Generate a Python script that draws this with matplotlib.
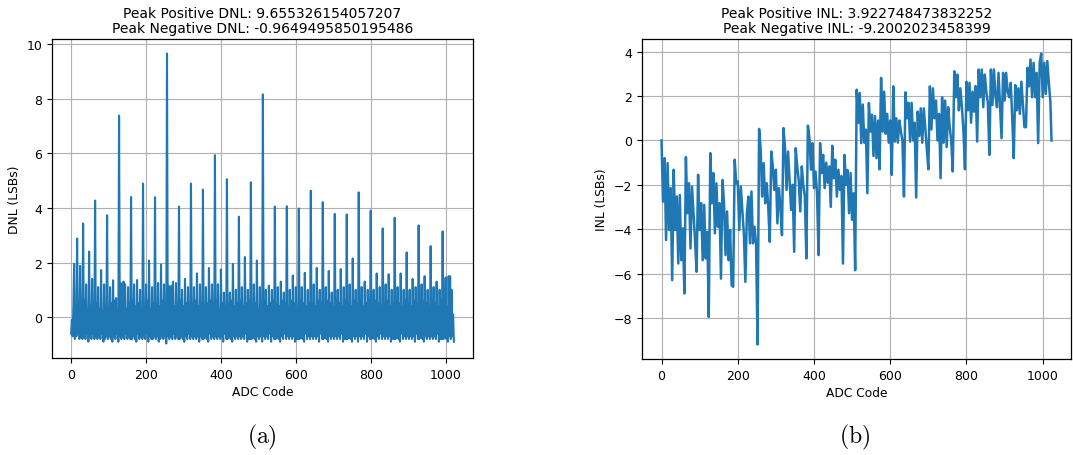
import numpy as np
import matplotlib
matplotlib.use("Agg")
import matplotlib.pyplot as plt

# ---------------- data ----------------
# DNL sampled every 2 ADC codes (0, 2, ..., 1022); one row = 32 codes
dnl_codes = np.arange(0, 1024, 2)
dnl_values = [
    -0.6, -0.1, -0.7, 0.4, 1.95, -0.8, 0.2, -0.7, 2.88, -0.6, 0.5, -0.8, 1.88, -0.7, 0.3, -0.8,
    3.43, -0.7, 0.6, -0.8, 1.2, -0.6, 0.2, -0.9, 2.40, -0.7, 0.4, -0.8, 1.4, -0.6, 0.1, -0.8,
    4.27, -0.7, 0.5, -0.8, 1.1, -0.7, 0.3, -0.8, 1.72, -0.6, 0.2, -0.9, 1.2, -0.8, 0.4, -0.7,
    3.73, -0.8, 0.3, -0.7, 1.1, -0.8, 0.5, -0.9, 1.35, -0.7, 0.6, -0.8, 0.7, -0.6, 0.2, -0.9,
    7.38, -0.7, 1.25, -0.8, 0.4, -0.7, 1.3, -0.8, 1.2, -0.6, 0.3, -0.8, 1.1, -0.7, 0.5, -0.8,
    4.40, -0.8, 0.6, -0.7, 1.2, -0.8, 0.4, -0.9, 1.36, -0.6, 0.5, -0.8, 1.0, -0.7, 0.3, -0.8,
    4.89, -0.7, 0.4, -0.8, 1.2, -0.6, 0.6, -0.9, 2.07, -0.7, 0.3, -0.8, 1.1, -0.8, 0.5, -0.7,
    4.39, -0.8, 0.5, -0.7, 1.25, -0.9, 0.4, -0.8, 1.93, -0.7, 0.6, -0.8, 1.2, -0.7, 0.3, -0.965,
    9.655, -0.7, 1.15, -0.8, 0.5, -0.7, 1.15, -0.8, 1.3, -0.6, 0.4, -0.8, 1.25, -0.7, 0.5, -0.8,
    4.05, -0.8, 0.6, -0.7, 1.0, -0.8, 0.4, -0.9, 1.40, -0.7, 0.5, -0.8, 1.1, -0.6, 0.3, -0.8,
    4.89, -0.7, 0.5, -0.8, 1.1, -0.7, 0.6, -0.8, 1.60, -0.7, 0.4, -0.9, 1.2, -0.7, 0.5, -0.8,
    4.67, -0.8, 0.4, -0.7, 1.1, -0.8, 0.5, -0.9, 1.80, -0.6, 0.6, -0.8, 1.2, -0.7, 0.4, -0.8,
    5.93, -0.7, 0.6, -0.8, 1.2, -0.7, 0.3, -0.8, 1.75, -0.7, 0.5, -0.9, 0.9, -0.6, 0.4, -0.8,
    5.05, -0.8, 0.5, -0.7, 0.9, -0.8, 0.6, -0.9, 1.95, -0.7, 0.4, -0.8, 1.0, -0.7, 0.5, -0.8,
    3.68, -0.7, 0.6, -0.8, 1.1, -0.7, 0.4, -0.8, 2.20, -0.6, 0.5, -0.9, 1.0, -0.8, 0.6, -0.8,
    4.94, -0.8, 0.4, -0.7, 1.2, -0.8, 0.5, -0.9, 2.07, -0.7, 0.3, -0.8, 1.1, -0.7, 0.4, -0.9,
    8.16, -0.7, 0.6, -0.8, 1.0, -0.7, 0.4, -0.8, 1.15, -0.6, 0.5, -0.9, 1.0, -0.7, 0.6, -0.8,
    4.05, -0.8, 0.5, -0.7, 1.1, -0.8, 0.4, -0.9, 1.30, -0.7, 0.6, -0.8, 0.9, -0.6, 0.5, -0.8,
    4.06, -0.7, 0.4, -0.8, 1.0, -0.7, 0.6, -0.8, 1.52, -0.7, 0.5, -0.9, 1.1, -0.8, 0.3, -0.8,
    3.98, -0.8, 0.6, -0.7, 1.1, -0.8, 0.5, -0.9, 1.62, -0.6, 0.4, -0.8, 1.0, -0.7, 0.5, -0.8,
    4.63, -0.7, 0.5, -0.8, 1.2, -0.7, 0.4, -0.8, 1.80, -0.7, 0.6, -0.9, 1.0, -0.6, 0.5, -0.8,
    4.21, -0.8, 0.4, -0.7, 1.1, -0.8, 0.6, -0.9, 1.69, -0.7, 0.5, -0.8, 0.9, -0.7, 0.4, -0.8,
    3.78, -0.7, 0.6, -0.8, 1.0, -0.7, 0.5, -0.8, 1.76, -0.6, 0.4, -0.9, 1.1, -0.8, 0.6, -0.8,
    3.76, -0.8, 0.5, -0.7, 1.2, -0.8, 0.4, -0.9, 2.15, -0.7, 0.6, -0.8, 1.0, -0.7, 0.5, -0.9,
    4.57, -0.7, 0.6, -0.8, 1.1, -0.7, 0.4, -0.8, 1.30, -0.6, 0.5, -0.9, 1.0, -0.7, 0.6, -0.8,
    3.90, -0.8, 0.4, -0.7, 1.0, -0.8, 0.6, -0.9, 1.60, -0.7, 0.5, -0.8, 1.1, -0.6, 0.4, -0.8,
    3.25, -0.7, 0.5, -0.8, 1.2, -0.7, 0.6, -0.8, 1.57, -0.7, 0.4, -0.9, 1.0, -0.8, 0.5, -0.8,
    3.64, -0.8, 0.6, -0.7, 1.1, -0.8, 0.5, -0.9, 1.60, -0.6, 0.4, -0.8, 1.0, -0.7, 0.6, -0.8,
    2.37, -0.7, 0.5, -0.8, 1.0, -0.7, 0.4, -0.8, 1.40, -0.7, 0.6, -0.9, 1.1, -0.6, 0.5, -0.8,
    3.36, -0.8, 0.4, -0.7, 1.2, -0.8, 0.6, -0.9, 1.50, -0.7, 0.5, -0.8, 1.0, -0.7, 0.4, -0.8,
    2.60, -0.7, 0.6, -0.8, 1.1, -0.7, 0.5, -0.8, 1.30, -0.6, 0.4, -0.9, 1.0, -0.8, 0.6, -0.8,
    3.14, -0.8, 0.5, -0.7, 1.45, -0.8, 0.4, -0.9, 1.50, -0.7, 1.5, -0.8, 1.0, -0.7, 0.1, -0.9,
]

# INL sampled every 4 ADC codes (0, 4, ..., 1020) plus the last code 1023
inl_codes = list(range(0, 1024, 4)) + [1023]
inl_values = [
    0.0, -2.76, -0.8, -4.49, -1.02, -4.04, -2.15, -6.3,
    -1.32, -4.04, -2.53, -5.55, -2.46, -5.4, -3.97, -6.9,
    -0.75, -3.28, -1.93, -4.87, -2.08, -3.28, -4.5, -5.92,
    -1.55, -4.04, -2.83, -5.4, -2.91, -5.32, -4.12, -7.96,
    -0.57, -2.83, -1.47, -4.19, -1.93, -3.89, -2.83, -6.23,
    -1.78, -2.83, -5.17, -3.2, -5.4, -4.04, -6.53, -6.6,
    -0.87, -1.93, -1.85, -4.04, -2.08, -3.13, -4.19, -6.38,
    -3.28, -2.53, -4.64, -2.3, -4.64, -3.89, -4.64, -9.2,
    0.52, -0.35, -2.53, -1.02, -2.83, -1.93, -3.0, -4.57,
    -0.5, -1.17, -2.23, -1.32, -3.74, -2.15, -3.0, -4.27,
    0.56, -0.35, -2.23, -0.5, -1.78, -3.13, -2.0, -5.02,
    -0.35, -1.17, -1.8, -3.2, -1.17, -2.0, -2.53, -5.32,
    0.67, 0.12, -1.32, -0.12, -2.15, -1.4, -2.4, -5.17,
    -0.12, -1.47, -0.65, -2.15, -1.0, -1.9, -1.17, -3.0,
    -0.24, -1.7, -0.87, -2.53, -1.32, -2.23, -1.6, -5.55,
    -0.65, -2.0, -1.33, -3.28, -1.47, -3.58, -2.38, -5.85,
    2.29, 0.79, 2.14, -0.12, 1.62, -0.1, 0.49, -2.38,
    1.69, 0.4, 1.16, -0.7, 1.1, -0.8, 0.9, -1.3,
    2.82, 0.4, 2.2, 0.3, 1.2, -0.1, 0.9, -1.55,
    2.44, -0.05, 1.0, -0.1, 0.9, 0.4, 0.0, -2.53,
    2.17, 1.0, 1.7, -0.05, 1.7, 0.0, 0.8, -2.57,
    1.3, 0.2, 1.45, -0.1, 1.45, 0.5, -0.4, -1.3,
    2.44, 0.5, 2.35, 1.0, 1.8, 0.0, 1.2, -1.7,
    1.95, -0.1, 1.8, -0.3, 1.5, 0.6, 0.0, -1.4,
    3.12, 1.95, 2.97, 1.36, 2.35, 1.5, 0.45, -1.3,
    2.65, 1.36, 2.6, 0.8, 2.2, 1.3, 2.45, -0.05,
    3.2, 1.95, 3.2, 1.5, 2.97, 2.2, 1.7, -0.65,
    3.2, 1.6, 3.2, 2.0, 1.5, 3.05, 1.6, 0.1,
    3.05, 1.8, 3.05, 2.2, 1.95, 2.6, 1.0, -0.8,
    2.5, 1.36, 2.35, 1.2, 2.65, 1.6, 0.6, 0.6,
    3.28, 2.44, 3.65, 1.95, 3.5, 1.95, 3.05, -0.12,
    3.5, 3.92, 1.95, 3.5, 2.1, 3.58, 2.6, 1.76,
    0.0,
]

dnl_title = ["Peak Positive DNL: 9.655326154057207",
             "Peak Negative DNL: -0.9649495850195486"]
inl_title = ["Peak Positive INL: 3.922748473832252",
             "Peak Negative INL: -9.2002023458399"]
x_label = "ADC Code"
dnl_ylabel = "DNL (LSBs)"
inl_ylabel = "INL (LSBs)"
captions = ["(a)", "(b)"]

# ---------------- figure ----------------
W, H = 1073, 456
fig = plt.figure(figsize=(W / 100, H / 100), dpi=100)

def box(l, t, r, b):
    return [l / W, 1 - b / H, (r - l) / W, (b - t) / H]

ax1 = fig.add_axes(box(52, 40, 473, 359))
ax2 = fig.add_axes(box(642, 40, 1071, 360))

line_color = "#1f77b4"

for ax, xs, ys, ttl, ylab, lw in [
    (ax1, dnl_codes, dnl_values, dnl_title, dnl_ylabel, 1.5),
    (ax2, inl_codes, inl_values, inl_title, inl_ylabel, 1.8),
]:
    ax.plot(xs, ys, color=line_color, linewidth=lw)
    ax.grid(True, color="#b0b0b0", linewidth=0.8)
    ax.set_axisbelow(True)
    ax.set_title("\n".join(ttl), fontsize=10, linespacing=1.1, pad=5)
    ax.set_xlabel(x_label, fontsize=8.8, labelpad=3)
    ax.set_ylabel(ylab, fontsize=8.8, labelpad=4)
    ax.set_xticks([0, 200, 400, 600, 800, 1000])
    ax.tick_params(labelsize=9, length=3.5, width=0.8)
    for s in ax.spines.values():
        s.set_linewidth(0.9)

ax1.set_yticks([0, 2, 4, 6, 8, 10])
ax2.set_yticks([-8, -6, -4, -2, 0, 2, 4])

for cx, cap in zip([262, 855], captions):
    fig.text(cx / W, 1 - 437 / H, r"$\mathrm{" + cap + "}$", fontsize=17,
             math_fontfamily="cm", ha="center", va="center")

fig.savefig("out.png", dpi=100)
